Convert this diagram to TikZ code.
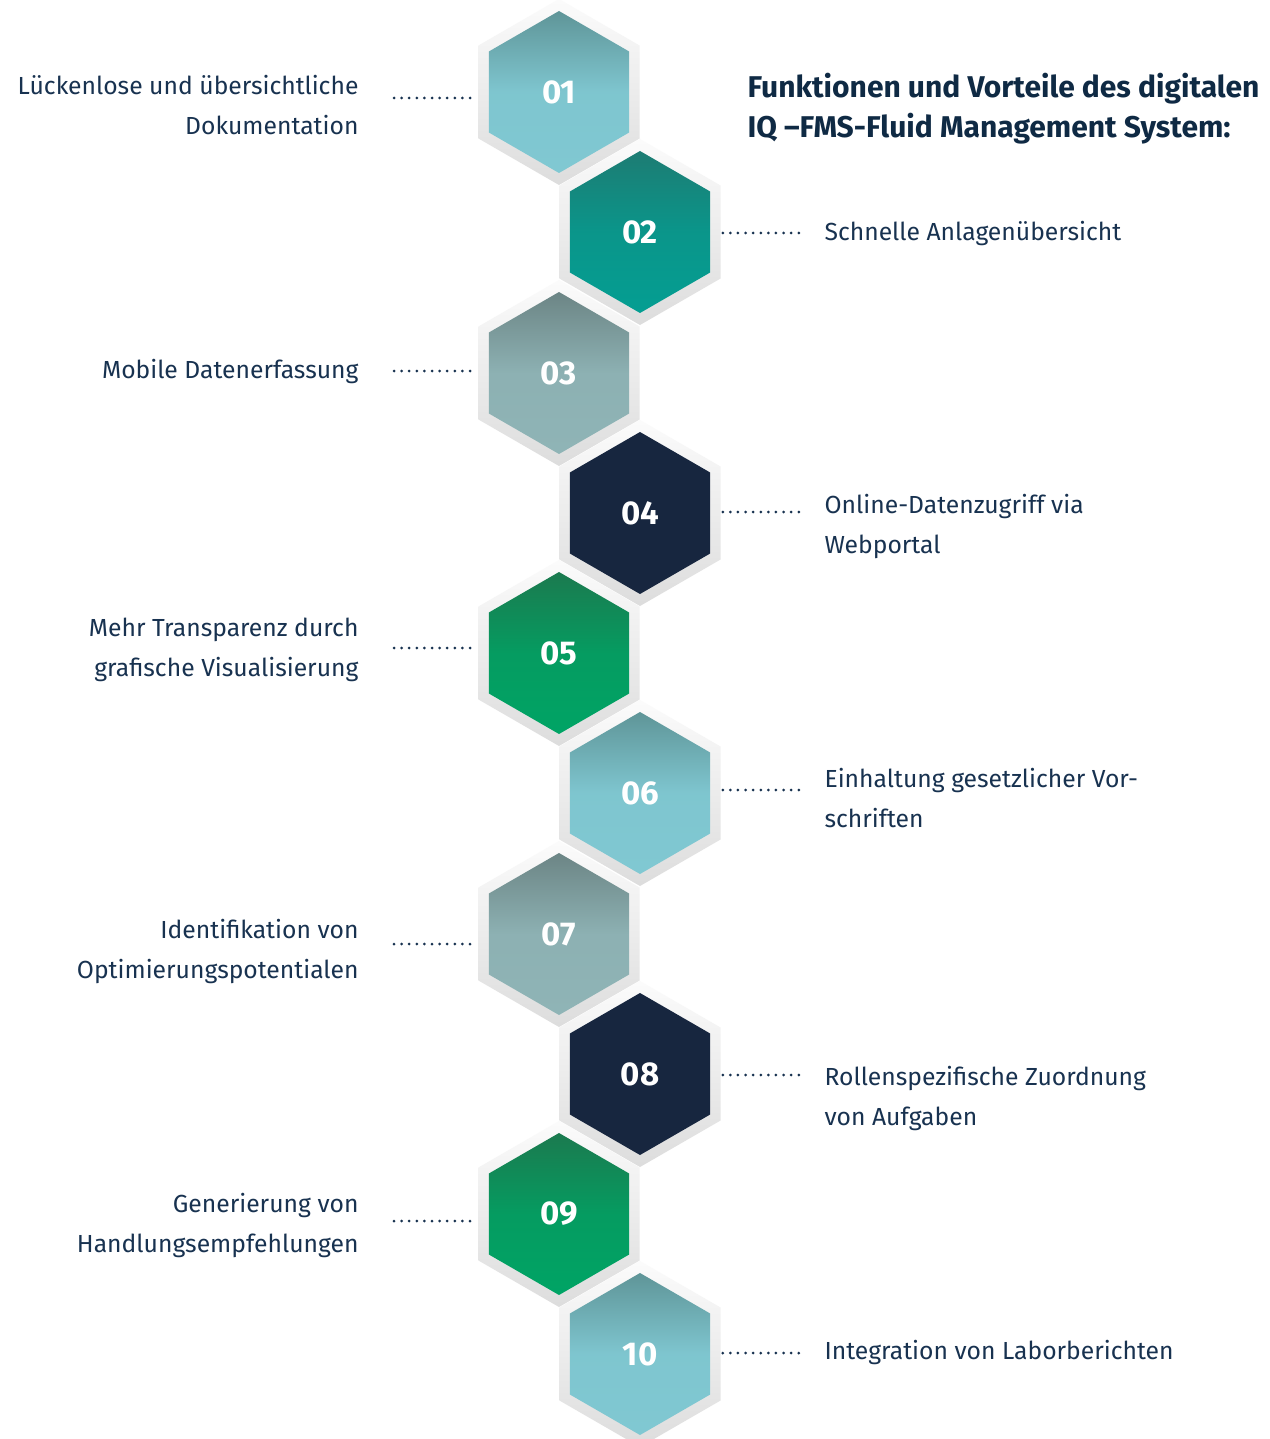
\documentclass[tikz,border=0pt]{standalone}
\usepackage{fontspec}
\setmainfont{Fira Sans}
\usetikzlibrary{shapes.geometric}
\usetikzlibrary{positioning}
\definecolor{txtblue}{HTML}{183250}
\definecolor{titleblue}{HTML}{0F2A44}
\definecolor{lbtop}{HTML}{5F9598}
\definecolor{lbbot}{HTML}{80C8D2}
\definecolor{tqtop}{HTML}{1D7C73}
\definecolor{tqbot}{HTML}{049E92}
\definecolor{grtop}{HTML}{6C8585}
\definecolor{grbot}{HTML}{8FB4B6}
\definecolor{navy}{HTML}{17263F}
\definecolor{gntop}{HTML}{1B7A4F}
\definecolor{gnbot}{HTML}{00A465}
\tikzset{
	frame/.style={regular polygon, regular polygon sides=6, shape border rotate=30, minimum size=186pt, inner sep=0pt, draw=none, top color=gray!3, bottom color=gray!27},
	hexbox/.style={regular polygon, regular polygon sides=6, shape border rotate=30, minimum size=162pt, inner sep=0pt, draw=none, text=white, font=\bfseries\fontsize{33}{33}\selectfont},
	lightblue/.style={hexbox, top color=lbtop, bottom color=lbbot, middle color=lbbot!95!lbtop},
	teal/.style={hexbox, top color=tqtop, bottom color=tqbot, middle color=tqbot!75!tqtop},
	greyblue/.style={hexbox, top color=grtop, bottom color=grbot, middle color=grbot!93!grtop},
	darkblue/.style={hexbox, fill=navy},
	green/.style={hexbox, top color=gntop, bottom color=gnbot, middle color=gnbot!80!gntop},
	lefttext/.style={anchor=east, align=right, text=txtblue, font=\fontsize{24.7}{40}\selectfont},
	righttext/.style={anchor=west, align=left, text=txtblue, font=\fontsize{24.7}{40}\selectfont},
	dotline/.style={draw=txtblue, line width=3pt, line cap=round, dash pattern=on 0pt off 7.6pt}
}
\begin{document}
\begin{tikzpicture}[x=1pt,y=-1pt]
	\useasboundingbox[fill=white] (0,0) rectangle (1269,1439);
	% frames
	\node[frame] (f1) at (559,92) {};
	\node[frame] (f2) at (640,232) {};
	\node[frame] (f3) at (559,373) {};
	\node[frame] (f4) at (640,513) {};
	\node[frame] (f5) at (559,653) {};
	\node[frame] (f6) at (640,793) {};
	\node[frame] (f7) at (559,934) {};
	\node[frame] (f8) at (640,1074) {};
	\node[frame] (f9) at (559,1214) {};
	\node[frame] (f10) at (640,1354) {};
	% hexagons
	\node[lightblue] (h1) at (f1) {01};
	\node[teal] (h2) at (f2) {02};
	\node[greyblue] (h3) at (f3) {03};
	\node[darkblue] (h4) at (f4) {04};
	\node[green] (h5) at (f5) {05};
	\node[lightblue] (h6) at (f6) {06};
	\node[greyblue] (h7) at (f7) {07};
	\node[darkblue] (h8) at (f8) {08};
	\node[green] (h9) at (f9) {09};
	\node[lightblue] (h10) at (f10) {10};
	% title
	\node[anchor=west, align=left, text=titleblue, font=\bfseries\fontsize{30}{40}\selectfont] (title) at (744,109) {Funktionen und Vorteile des digitalen\\IQ –FMS-Fluid Management System:};
	% labels
	\node[lefttext] (t1) at (362,105) {Lückenlose und übersichtliche\\Dokumentation};
	\node[righttext] (t2) at (821,233) {Schnelle Anlagenübersicht};
	\node[lefttext] (t3) at (362,371) {Mobile Datenerfassung};
	\node[righttext] (t4) at (821,526) {Online-Datenzugriff via\\Webportal};
	\node[lefttext] (t5) at (362,650) {Mehr Transparenz durch\\grafische Visualisierung};
	\node[righttext] (t6) at (821,798) {Einhaltung gesetzlicher Vor-\\schriften};
	\node[lefttext] (t7) at (362,951) {Identifikation von\\Optimierungspotentialen};
	\node[righttext] (t8) at (821,1098) {Rollenspezifische Zuordnung\\von Aufgaben};
	\node[lefttext] (t9) at (362,1225) {Generierung von\\Handlungsempfehlungen};
	\node[righttext] (t10) at (821,1352) {Integration von Laborberichten};
	% dotted connectors
	\coordinate (p1) at (394,98);
	\coordinate (p2) at (800,233);
	\coordinate (p3) at (394,371);
	\coordinate (p4) at (800,512);
	\coordinate (p5) at (394,648);
	\coordinate (p6) at (800,790);
	\coordinate (p7) at (394,944);
	\coordinate (p8) at (800,1075);
	\coordinate (p9) at (394,1221);
	\coordinate (p10) at (800,1353);
	\draw[dotline] (p1) -- ([xshift=-3pt]p1 -| f1.west);
	\draw[dotline] ([xshift=2pt]f2.east |- p2) -- (p2);
	\draw[dotline] (p3) -- ([xshift=-3pt]p3 -| f3.west);
	\draw[dotline] ([xshift=2pt]f4.east |- p4) -- (p4);
	\draw[dotline] (p5) -- ([xshift=-3pt]p5 -| f5.west);
	\draw[dotline] ([xshift=2pt]f6.east |- p6) -- (p6);
	\draw[dotline] (p7) -- ([xshift=-3pt]p7 -| f7.west);
	\draw[dotline] ([xshift=2pt]f8.east |- p8) -- (p8);
	\draw[dotline] (p9) -- ([xshift=-3pt]p9 -| f9.west);
	\draw[dotline] ([xshift=2pt]f10.east |- p10) -- (p10);
\end{tikzpicture}
\end{document}
